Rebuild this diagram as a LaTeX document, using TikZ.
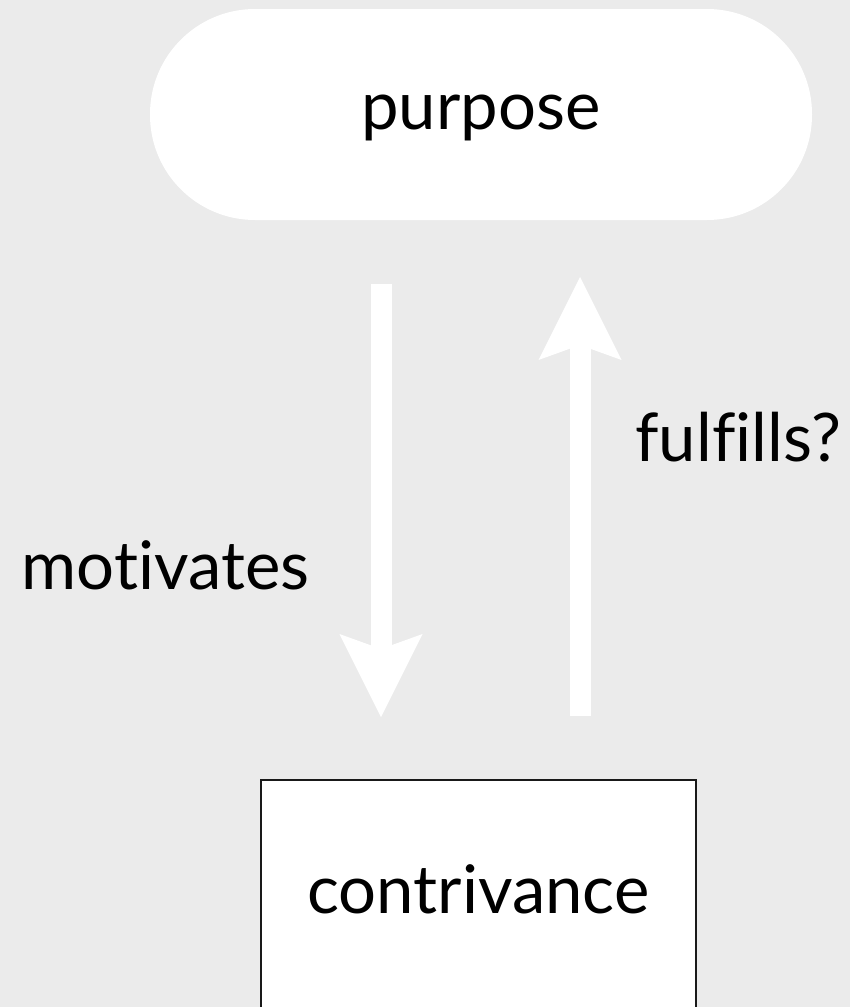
\documentclass[tikz,border=0pt]{standalone}
\usepackage{fontspec}
\setmainfont{Lato}[Ligatures={NoCommon}]
\usetikzlibrary{arrows.meta}
\definecolor{bgc}{HTML}{EBEBEB}
\begin{document}
\begin{tikzpicture}[x=1pt,y=-1pt,
  txt/.style={font=\fontsize{67}{67}\selectfont},
  lbl/.style={txt, inner sep=0pt, anchor=base},
  bigarrow/.style={draw=white, line width=21pt,
    -{Stealth[length=83pt,width=83pt,inset=15pt,line width=0pt]}}
]
\useasboundingbox (0,0) rectangle (850,1007);
\fill[bgc] (0,0) rectangle (850,1007);
\node[txt, fill=white, rounded corners=105pt, minimum width=662pt, minimum height=211pt,
      inner sep=0pt, text height=29pt, text depth=0pt] (purpose) at (481,114.5) {purpose};
\node[txt, fill=white, draw=black!90, line width=1.6pt, minimum width=435pt, minimum height=232pt,
      inner sep=0pt, text height=36pt, text depth=0pt, anchor=north] (contr) at (478.5,779) {contrivance};
\coordinate (d1) at (381,284);
\coordinate (d2) at (381,717);
\coordinate (u1) at (580,716);
\coordinate (u2) at (580,277);
\draw[bigarrow] (d1) -- (d2);
\draw[bigarrow] (u1) -- (u2);
\node[lbl] (mot) at (165.5,589) {motivates};
\node[lbl] (ful) at (738.5,461) {fulfills?};
\end{tikzpicture}
\end{document}
